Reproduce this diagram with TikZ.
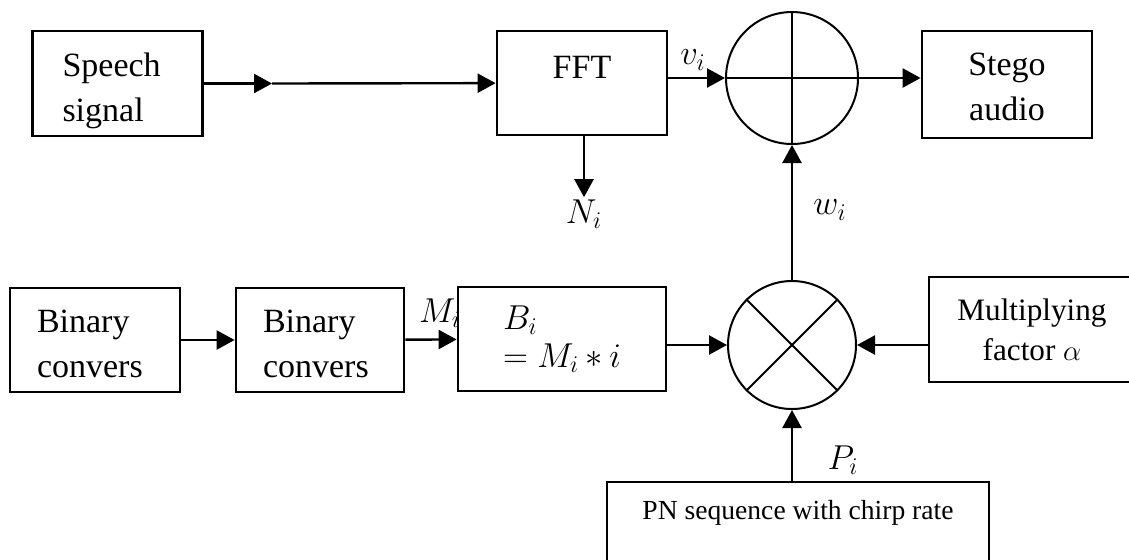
\documentclass[tikz,border=0pt]{standalone}
\usepackage{fontspec}
\setmainfont{Liberation Serif}
\usetikzlibrary{arrows.meta, calc}
\begin{document}
\begin{tikzpicture}[x=0.5pt, y=-0.5pt,
    blk/.style={draw, line width=1.4pt, inner sep=0pt, minimum width=85pt, minimum height=52pt, font=\fontsize{17}{22.5}\selectfont},
    opr/.style={draw, circle, line width=1pt, inner sep=0pt},
    sig/.style={font=\fontsize{17}{20}\selectfont, inner sep=1pt},
    arr/.style={draw, line width=1.2pt, -{Triangle[length=9pt, width=9.5pt]}}]
    \useasboundingbox (0,0) rectangle (1129,559);
    \node[blk, minimum height=52.5pt, text width=55pt, align=left] (speech) at (117.5,83.5) {\rule{0pt}{19pt}Speech\\signal};
    \node[blk] (fft) at (582,83) {\raisebox{8pt}[\height][\depth]{FFT}};
    \node[opr, minimum size=66pt] (sum) at (792,78) {};
    \node[blk, minimum height=53.5pt, align=center] (stego) at (1007,84.5) {\rule{0pt}{14pt}Stego\\audio};
    \node[blk, text width=58pt, align=left] (bin1) at (95,340) {\rule{0pt}{15pt}Binary\\convers};
    \node[blk, minimum width=84pt, text width=57pt, align=left] (bin2) at (320,340) {\rule{0pt}{15pt}Binary\\convers};
    \node[blk, minimum width=104pt, text width=59pt, align=left, font=\fontsize{17}{19}\selectfont] (bi) at (562,339) {$B_i$\\$= M_i * i$};
    \node[opr, minimum size=64pt] (mul) at (792,345) {};
    \node[blk, minimum width=103pt, minimum height=52.5pt, align=center, font=\fontsize{15.6}{20}\selectfont] (mf) at (1032,329.5) {Multiplying\\factor $\alpha$};
    \node[blk, minimum width=191pt, minimum height=60pt, font=\fontsize{13.8}{16}\selectfont] (pn) at (798,542) {\raisebox{14.5pt}[\height][\depth]{PN sequence with chirp rate}};
    \node[sig] (nlab) at (584,214) {$N_i$};
    \node[sig] (vlab) at (693,60) {$v_i$};
    \node[sig] (mlab) at (440,313) {$M_i$};
    \node[sig] (wlab) at (830,210) {$w_i$};
    \node[sig] (plab) at (843,460) {$P_i$};
    \coordinate (mid) at (272,83.5);
    \draw[arr] (speech) -- (mid);
    \draw[arr] (mid) -- (fft);
    \draw[arr] (fft.east |- sum) -- (sum);
    \draw[arr] (sum) -- (stego.west |- sum);
    \draw[arr] (fft.south -| nlab) -- (nlab.north);
    \draw[arr] (bin1) -- (bin2);
    \draw[arr] (bin2) -- (bi);
    \draw[arr] (bi.east |- mul) -- (mul);
    \draw[arr] (mf.west |- mul) -- (mul);
    \draw[arr] (pn.north -| mul) -- (mul);
    \draw[arr] (mul) -- (sum);
    \draw[line width=1pt] (sum.north) -- (sum.south) (sum.west) -- (sum.east);
    \draw[line width=1pt] (mul.north west) -- (mul.south east) (mul.north east) -- (mul.south west);
\end{tikzpicture}
\end{document}
